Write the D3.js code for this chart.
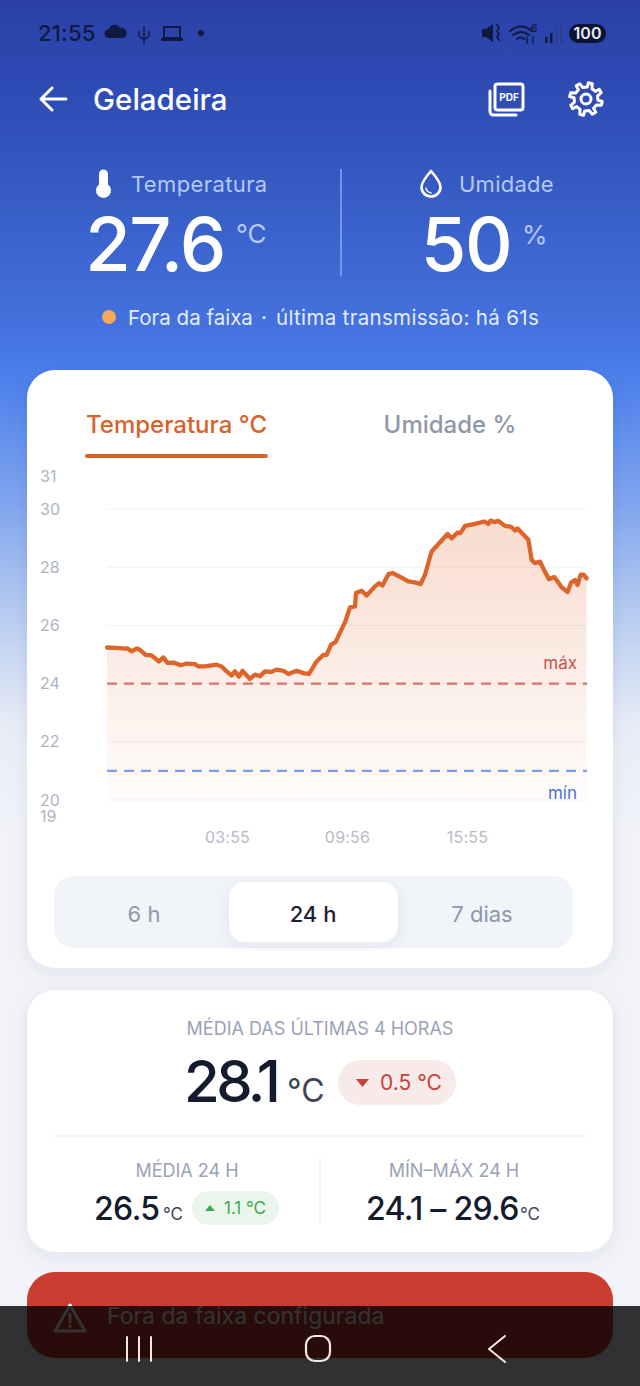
<!DOCTYPE html>
<html>
<head>
<meta charset="UTF-8">
<title>Geladeira</title>
<script src="https://d3js.org/d3.v7.min.js"></script>
<style>
  html, body { margin: 0; padding: 0; background: #f1f3f9; }
  svg { display: block; font-family: Inter, "Noto Sans", sans-serif; }
</style>
</head>
<body>
<svg id="screen" width="640" height="1386"></svg>
<script>
// hours since 21:55 of the day before
var hours = [0,0.65,0.9,1.03,1.23,1.5,1.63,1.93,2.23,2.6,2.82,3.03,3.32,3.7,3.98,4.4,4.57,4.9,5.23,5.48,5.73,5.98,6.23,6.4,6.6,6.77,7.15,7.4,7.65,7.9,8.2,8.48,8.82,9.07,9.48,9.82,10.1,10.48,10.82,10.98,11.2,11.43,11.9,12.15,12.4,12.45,12.73,12.98,13.4,13.6,13.77,14.07,14.27,14.73,15.07,15.4,15.68,15.9,16.23,16.48,17.03,17.23,17.53,17.67,17.9,18.4,18.87,19.07,19.17,19.37,19.57,19.9,20.2,20.4,20.53,21.07,21.23,21.4,21.65,21.87,22.1,22.37,22.73,23.03,23.2,23.4,23.53,23.68,23.83,23.98];
var temps = [25.24,25.22,25.2,25.21,25.11,25.21,25.17,24.99,24.97,24.76,24.9,24.71,24.72,24.63,24.69,24.67,24.59,24.59,24.63,24.65,24.59,24.42,24.28,24.42,24.24,24.44,24.16,24.31,24.25,24.42,24.4,24.48,24.44,24.33,24.44,24.36,24.33,24.76,24.99,24.99,25.33,25.43,26.11,26.62,26.65,27.11,27.19,27.03,27.34,27.45,27.37,27.76,27.8,27.64,27.51,27.48,27.42,27.74,28.54,28.73,29.14,28.99,29.19,29.17,29.42,29.49,29.57,29.49,29.6,29.55,29.59,29.42,29.39,29.26,29.33,28.94,28.25,28.14,28.19,27.88,27.59,27.66,27.31,27.15,27.47,27.56,27.39,27.74,27.74,27.62];
var yTicks = [19,20,22,24,26,28,30,31];
var gridTicks = [20,22,24,26,28,30];
var xTicks = [6,12,18];
var xLabels = ["03:55","09:56","15:55"];
var limitMax = 24;
var limitMin = 21;

var svg = d3.select("#screen");
var defs = svg.append("defs");

function gradient(id, stops, y1, y2) {
  var g = defs.append("linearGradient").attr("id", id)
    .attr("gradientUnits", "userSpaceOnUse")
    .attr("x1", 0).attr("x2", 0).attr("y1", y1).attr("y2", y2);
  stops.forEach(function(s) {
    g.append("stop").attr("offset", s[0]).attr("stop-color", s[1]).attr("stop-opacity", s[2] === undefined ? 1 : s[2]);
  });
}
gradient("bg", [[0,"#2a40a8"],[0.09,"#3050b8"],[0.24,"#4573df"],[0.27,"#4a7eea"],[0.36,"#7ea3ee"],[0.44,"#b5caf1"],[0.52,"#e6ecf6"],[0.6,"#f1f3f9"],[1,"#f1f3f9"]], 0, 1386);
gradient("areaFill", [[0,"#e0662c",0.24],[1,"#e0662c",0.02]], 510, 800);

var shadow = defs.append("filter").attr("id", "soft").attr("x", "-10%").attr("y", "-10%").attr("width", "120%").attr("height", "125%");
shadow.append("feDropShadow").attr("dx", 0).attr("dy", 4).attr("stdDeviation", 8).attr("flood-color", "#33415c").attr("flood-opacity", 0.08);

function label(x, y, str, size, color, anchor, weight, spacing) {
  return svg.append("text").attr("x", x).attr("y", y).text(str)
    .attr("font-size", size).attr("fill", color)
    .attr("text-anchor", anchor || "start").attr("font-weight", weight || 400)
    .attr("letter-spacing", spacing || 0);
}
function box(x, y, w, h, r, fill) {
  return svg.append("rect").attr("x", x).attr("y", y).attr("width", w).attr("height", h).attr("rx", r).attr("fill", fill);
}
function icon(d, stroke, sw, fill) {
  return svg.append("path").attr("d", d).attr("stroke", stroke || "none").attr("stroke-width", sw || 0)
    .attr("fill", fill || "none").attr("stroke-linecap", "round").attr("stroke-linejoin", "round");
}

box(0, 0, 640, 1386, 0, "url(#bg)");

// status bar
var ink = "#10193f";
label(38, 41, "21:55", 22, ink, "start", 500, 0.2);
icon("M109 38 a4.5 4.5 0 0 1 0-9 a6 6 0 0 1 11-1 a5 5 0 0 1 3 10 z", null, 0, ink);
icon("M144 27 v17 M139 31 v4 q0 3 5 4 q5-1 5-4 v-4", ink, 1.4);
icon("M164 27 h16 v11 h-16 z", ink, 2);
box(161, 38, 22, 3, 1, ink);
svg.append("circle").attr("cx", 201).attr("cy", 33).attr("r", 3).attr("fill", ink);
icon("M482 29 h4 l7-5 v18 l-7-5 h-4 z", null, 0, ink);
icon("M497 25 l2 3 -2 3 2 3 -2 3 2 3", ink, 1.8);
icon("M510 31 q11-9 22 0 M513 35 q8-6 16 0 M517 39 q4-3 7 0", ink, 2);
label(531, 32, "6", 10, ink, "start", 600);
icon("M527 43 v-6 M533 37 v6", ink, 1.5);
[[545,37,ink],[550,33,ink],[555,28,"#2d3f8f"],[560,23,"#2d3f8f"]].forEach(function(b) {
  box(b[0], b[1], 2.5, 43 - b[1], 0.5, b[2]);
});
box(569, 24, 37, 19, 9.5, "#0c1433");
label(587.5, 39, "100", 16, "#e8ebf5", "middle", 600);

// header
icon("M66 99 h-25 M52 88 l-11 11 11 11", "#fff", 3);
label(93, 110, "Geladeira", 29.5, "#fff", "start", 450);
box(495, 84, 28, 26, 2.5, "none").attr("stroke", "#fff").attr("stroke-width", 3);
icon("M490 91 v20 q0 4 4 4 h22", "#fff", 3);
label(509, 101, "PDF", 10, "#fff", "middle", 700);
var gear = [];
d3.range(8).forEach(function(i) {
  var a = i / 8 * 2 * Math.PI + 0.39;
  [[-0.24, 16.5], [0.0, 16.5], [0.13, 12], [0.5, 12]].forEach(function(p) {
    gear.push([586 + p[1] * Math.cos(a + p[0]), 99 + p[1] * Math.sin(a + p[0])]);
  });
});
svg.append("path").attr("d", d3.line().curve(d3.curveLinearClosed)(gear)).attr("fill", "none").attr("stroke", "#fff").attr("stroke-width", 3).attr("stroke-linejoin", "round");
svg.append("circle").attr("cx", 586).attr("cy", 99).attr("r", 5).attr("fill", "none").attr("stroke", "#fff").attr("stroke-width", 3);

// current reading
var soft = "#b4c8f5";
icon("M99 174 a4.5 4.5 0 0 1 9 0 v10.5 a7.5 7.5 0 1 1 -9 0 z", null, 0, "#fff");
label(131, 192, "Temperatura", 22, soft, "start", 400, 0.38);
label(155, 271, "27.6", 74, "#fff", "middle", 500, -1.5);
label(236, 243, "°C", 26, soft, "start", 400);
svg.append("line").attr("x1", 341).attr("x2", 341).attr("y1", 169).attr("y2", 276).attr("stroke", "#8ba8ea").attr("stroke-width", 1.5);
icon("M431 171 q-9.5 11 -9.5 16 a9.5 9.5 0 0 0 19 0 q0-5 -9.5-16 z", "#fff", 2.6);
icon("M426 188 q0.5 4 5 5", "#fff", 1.4);
label(459, 192, "Umidade", 22, soft, "start", 400, 0.25);
label(466, 271, "50", 74, "#fff", "middle", 500, -1.5);
label(522, 244, "%", 26, soft, "start", 400);
svg.append("circle").attr("cx", 109).attr("cy", 317).attr("r", 7).attr("fill", "#f4a957");
label(128, 325, "Fora da faixa", 20.5, "#e4ecfd");
label(264, 325, "·", 20.5, "#e4ecfd", "middle");
label(276, 325, "última transmissão: há 61s", 20.5, "#e4ecfd", "start", 400, 0.33);

// chart card
box(27, 370, 586, 598, 28, "#fff").attr("filter", "url(#soft)");
label(176.5, 433, "Temperatura °C", 24, "#d9622b", "middle", 450);
box(85, 454, 183, 4, 2, "#d9622b");
label(450, 433, "Umidade %", 24, "#8f97aa", "middle", 450);

var x = d3.scaleLinear().domain([0, 24]).range([107, 587]);
var y = d3.scaleLinear().domain([19, 20, 30, 31]).range([816, 800, 509, 476]);

svg.append("g").selectAll("line").data(gridTicks).join("line")
  .attr("x1", x(0)).attr("x2", x(24))
  .attr("y1", function(d) { return y(d); }).attr("y2", function(d) { return y(d); })
  .attr("stroke", "#eef1f8").attr("stroke-width", 1);

var yAxis = svg.append("g").attr("transform", "translate(40,0)")
  .call(d3.axisLeft(y).tickValues(yTicks).tickSize(0).tickPadding(0));
yAxis.select(".domain").remove();
yAxis.selectAll("text").attr("font-size", 16).attr("fill", "#aeb4c2").attr("font-family", "Inter").attr("text-anchor", "start").attr("x", 0);

var xAxis = svg.append("g").attr("transform", "translate(0,832)")
  .call(d3.axisBottom(x).tickValues(xTicks).tickSize(0).tickPadding(0).tickFormat(function(d, i) { return xLabels[i]; }));
xAxis.select(".domain").remove();
xAxis.selectAll("text").attr("font-size", 16).attr("fill", "#b6bbc7").attr("font-family", "Inter").attr("letter-spacing", 0.2);

var points = hours.map(function(h, i) { return [h, temps[i]]; });
svg.append("path").datum(points)
  .attr("d", d3.area().x(function(d) { return x(d[0]); }).y0(y(20)).y1(function(d) { return y(d[1]); }))
  .attr("fill", "url(#areaFill)");
svg.append("line").attr("x1", x(0)).attr("x2", x(24)).attr("y1", y(limitMax)).attr("y2", y(limitMax))
  .attr("stroke", "#d9736f").attr("stroke-width", 2.2).attr("stroke-dasharray", "10 7");
svg.append("line").attr("x1", x(0)).attr("x2", x(24)).attr("y1", y(limitMin)).attr("y2", y(limitMin))
  .attr("stroke", "#7d9bec").attr("stroke-width", 2.2).attr("stroke-dasharray", "10 7");
svg.append("path").datum(points)
  .attr("d", d3.line().x(function(d) { return x(d[0]); }).y(function(d) { return y(d[1]); }))
  .attr("fill", "none").attr("stroke", "#dd652b").attr("stroke-width", 4.3).attr("stroke-linejoin", "round").attr("stroke-linecap", "round");
label(577, 669, "máx", 17, "#c9504c", "end");
label(577, 799, "mín", 17, "#4a74d6", "end");

// range selector
box(54, 876, 519, 72, 20, "#f1f4f9");
box(229, 882, 169, 60, 16, "#fff").attr("filter", "url(#soft)");
label(144, 922, "6 h", 22, "#8f97aa", "middle");
label(313, 922, "24 h", 22, "#1b2236", "middle", 450);
label(482, 922, "7 dias", 22, "#8f97aa", "middle");

// averages card
box(27, 990, 586, 262, 28, "#fff").attr("filter", "url(#soft)");
var dark = "#141b2d", gray = "#9aa2b5";
label(320, 1035, "MÉDIA DAS ÚLTIMAS 4 HORAS", 18, gray, "middle");
label(184, 1102, "28.1", 58, dark, "start", 500, -3.6);
label(287, 1102, "°C", 32, "#3c4558", "start");
box(338, 1060, 118, 45, 22.5, "#f9eaea");
icon("M356 1079 h13 l-6.5 8 z", null, 0, "#c9413a");
label(380, 1090, "0.5 °C", 21, "#c9413a");
svg.append("line").attr("x1", 53).attr("x2", 587).attr("y1", 1136).attr("y2", 1136).attr("stroke", "#f0f2f7").attr("stroke-width", 1.5);
svg.append("line").attr("x1", 320).attr("x2", 320).attr("y1", 1158).attr("y2", 1225).attr("stroke", "#f0f2f7").attr("stroke-width", 1.5);
label(187, 1177, "MÉDIA 24 H", 18, gray, "middle");
label(94, 1220, "26.5", 32, dark, "start", 500, -0.6);
label(163, 1220, "°C", 17, "#3c4558");
box(192, 1191, 87, 34, 17, "#eaf6ec");
icon("M205 1211 h10 l-5-6 z", null, 0, "#3fa652");
label(224, 1214, "1.1 °C", 17, "#3fa652");
label(454, 1177, "MÍN–MÁX 24 H", 18, gray, "middle");
label(366, 1220, "24.1 – 29.6", 32, dark, "start", 500, -0.7);
label(520, 1220, "°C", 17, "#3c4558");

// alert banner, under the navigation bar
box(27, 1272, 586, 86, 28, "#ca3b30");
icon("M70 1305 l15 26 h-30 z", "#fff", 3);
icon("M70 1314 v8 M70 1326 v1", "#fff", 3);
label(107, 1324, "Fora da faixa configurada", 23, "#fff", "start", 400);

// navigation bar
svg.append("rect").attr("x", 0).attr("y", 1306).attr("width", 640).attr("height", 80).attr("fill", "#000").attr("opacity", 0.8);
icon("M127 1337 v24 M139 1337 v24 M151 1337 v24", "#f2e9e6", 2);
box(306, 1336, 24, 25, 9, "none").attr("stroke", "#f2e9e6").attr("stroke-width", 2.2);
icon("M505 1336 l-16 13 16 13", "#f2e9e6", 2);
</script>
</body>
</html>
